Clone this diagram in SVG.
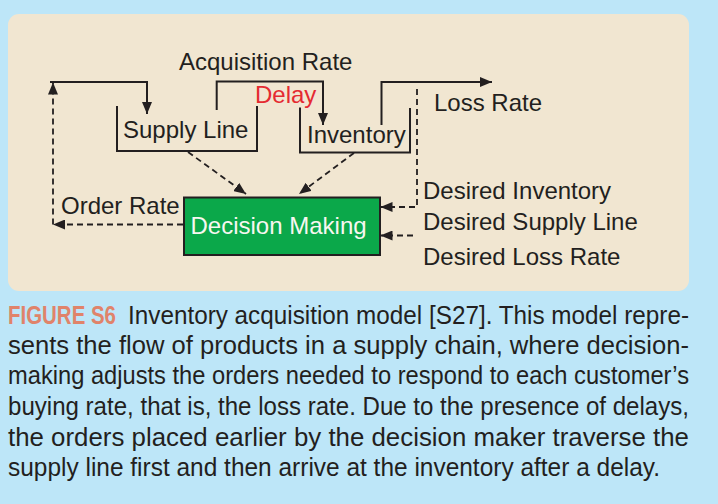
<svg xmlns="http://www.w3.org/2000/svg" width="718" height="504" viewBox="0 0 718 504">
<style>
.lbl{font-family:"Liberation Sans",Arial,Helvetica,sans-serif;font-size:24px;fill:#231f20}
.cap{font-family:"Liberation Sans",Arial,Helvetica,sans-serif;font-size:21px;fill:#231f20}
.ln{fill:none;stroke:#231f20;stroke-width:2}
.dash{fill:none;stroke:#231f20;stroke-width:1.8;stroke-dasharray:6 4}
</style>
<defs>
<marker id="ah" markerUnits="userSpaceOnUse" markerWidth="12" markerHeight="10" refX="12" refY="5" orient="auto">
<path d="M0,0 L12,5 L0,10 z" fill="#231f20"/>
</marker>
</defs>
<rect x="0" y="0" width="718" height="504" fill="#bde6f8"/>
<rect x="8" y="14" width="681" height="277" rx="11" fill="#f1e6d1"/>

<g id="supply-line">
<path class="ln" d="M117,106 V151 H257 V106"/>
<text class="lbl" x="123" y="138">Supply Line</text>
</g>
<g id="inventory">
<path class="ln" d="M300,107.5 V152.5 H410 V108"/>
<text class="lbl" x="307" y="143">Inventory</text>
</g>
<g id="decision-making">
<rect x="184" y="197.5" width="196" height="57.5" fill="#0ba84a" stroke="#231f20" stroke-width="2"/>
<text class="lbl" x="190.5" y="233.5" style="fill:#f7f7f0">Decision Making</text>
</g>
<g id="acquisition-rate"><text class="lbl" x="179" y="70">Acquisition Rate</text></g>
<g id="delay"><text class="lbl" x="255" y="103" style="fill:#e52a31">Delay</text></g>
<g id="loss-rate"><text class="lbl" x="434" y="111">Loss Rate</text></g>
<g id="order-rate"><text class="lbl" x="61" y="214">Order Rate</text></g>
<g id="desired-inventory"><text class="lbl" x="423" y="198.5">Desired Inventory</text></g>
<g id="desired-supply-line"><text class="lbl" x="423" y="230">Desired Supply Line</text></g>
<g id="desired-loss-rate"><text class="lbl" x="423" y="264.5">Desired Loss Rate</text></g>

<g id="connectors">
<path class="ln" d="M50,82 H147 V114" marker-end="url(#ah)"/>
<path class="ln" d="M216.7,110 V81.5 H323 V125" marker-end="url(#ah)"/>
<path class="ln" d="M381.5,125 V82 H492" marker-end="url(#ah)"/>
<path class="dash" d="M183,224.5 H53" marker-end="url(#ah)"/>
<path class="dash" d="M53,224.5 V82.5" marker-end="url(#ah)"/>
<path class="dash" d="M417,89 V207 H380.5" marker-end="url(#ah)"/>
<path class="dash" d="M413,235.5 H380.5" marker-end="url(#ah)"/>
<path class="dash" d="M188,152 L246,194" marker-end="url(#ah)"/>
<path class="dash" d="M354,153 L299,194" marker-end="url(#ah)"/>
</g>

<g id="caption" transform="scale(1,1.2)">
<text class="cap" x="8" y="269.6" textLength="108" lengthAdjust="spacingAndGlyphs" style="fill:#e0836a;font-weight:bold">FIGURE S6</text>
<text class="cap" x="128" y="269.6" textLength="561" lengthAdjust="spacingAndGlyphs">Inventory acquisition model [S27]. This model repre-</text>
<text class="cap" x="8" y="295" textLength="681" lengthAdjust="spacingAndGlyphs">sents the flow of products in a supply chain, where decision-</text>
<text class="cap" x="8" y="320.4" textLength="681" lengthAdjust="spacingAndGlyphs">making adjusts the orders needed to respond to each customer’s</text>
<text class="cap" x="8" y="345.8" textLength="681" lengthAdjust="spacingAndGlyphs">buying rate, that is, the loss rate. Due to the presence of delays,</text>
<text class="cap" x="8" y="371.3" textLength="681" lengthAdjust="spacingAndGlyphs">the orders placed earlier by the decision maker traverse the</text>
<text class="cap" x="8" y="396.7" textLength="652" lengthAdjust="spacingAndGlyphs">supply line first and then arrive at the inventory after a delay.</text>
</g>
</svg>
